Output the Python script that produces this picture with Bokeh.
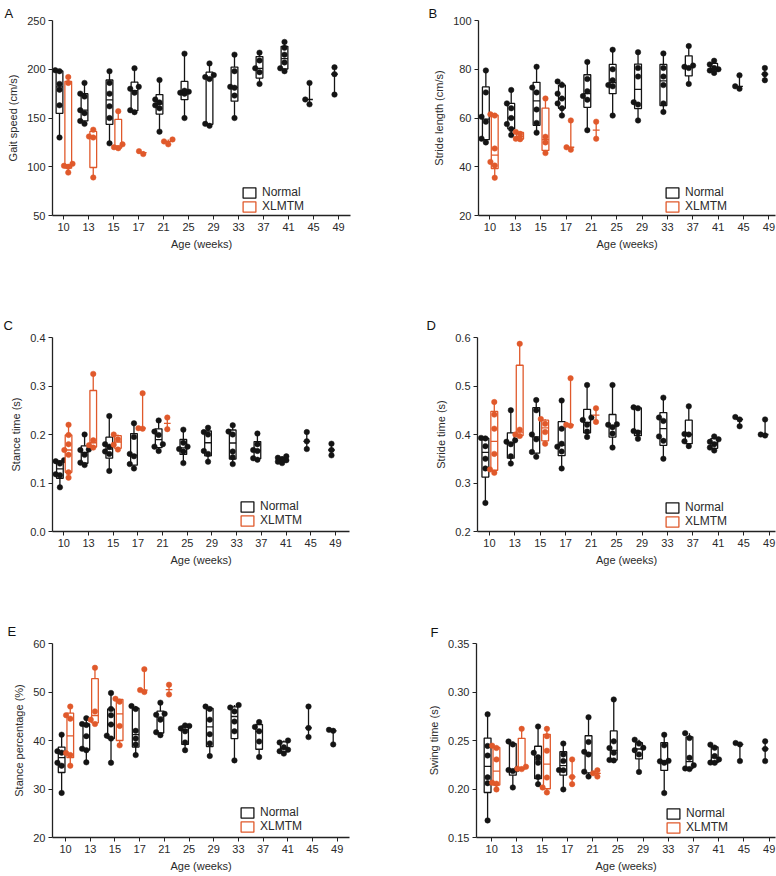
import numpy as np
from bokeh.plotting import figure
from bokeh.layouts import row, column
from bokeh.models import (Range1d, FixedTicker, NumeralTickFormatter, Legend,
                          LegendItem)
from bokeh.core.properties import value
from bokeh.embed import file_html
from bokeh.resources import INLINE

# ---------------- data ----------------
AGES = ["10", "13", "15", "17", "21", "25", "29", "33", "37", "41", "45", "49"]

A_NORMAL = [[130, 163, 179, 185, 198, 199], [144, 147, 155, 158, 172, 175, 186],
            [124, 150, 162, 175, 186, 198], [156, 158, 176, 180, 182, 201],
            [136, 160, 163, 166, 169, 189], [150, 175, 176, 177, 178, 216],
            [142, 144, 190, 192, 194, 206], [150, 173, 181, 182, 198, 215],
            [185, 197, 201, 209, 217], [198, 201, 207, 215, 222, 228],
            [164, 169, 186], [174, 195, 202]]
A_XLMTM = [[94, 100, 101, 103, 186, 192], [89, 130, 131, 138], [119, 120, 123, 157],
           [113, 116], [123, 126, 128], [], [], [], [], [], [], []]

B_NORMAL = [[50, 51.5, 58.5, 60.5, 70.5, 79.5], [53, 55.5, 57.5, 60, 64, 66, 71.5],
            [54, 58, 63.5, 70.5, 72.5, 81], [61, 64, 66, 68, 70, 73.5, 75],
            [55, 67.5, 69, 71, 76, 83], [61, 73, 73.5, 75.5, 80, 88],
            [59, 65.5, 66.5, 77, 80.5, 87], [62.5, 66, 73.5, 77, 80.5, 86.5],
            [74, 80.5, 81, 81.5, 89.5], [78.5, 79.5, 80, 80.5, 82, 83.5],
            [72, 73, 77.5], [75.5, 78, 80.5]]
B_XLMTM = [[35.5, 40.5, 42, 47.5, 61, 61.5], [51.3, 51.5, 53.5, 54.3], [45.6, 50, 52.3, 68],
           [47, 48, 59], [51.5, 58.5], [], [], [], [], [], [], []]

C_NORMAL = [[0.091, 0.116, 0.118, 0.14, 0.145, 0.147], [0.137, 0.142, 0.158, 0.168, 0.169, 0.2],
            [0.125, 0.16, 0.165, 0.175, 0.18, 0.238], [0.13, 0.139, 0.155, 0.16, 0.195, 0.223],
            [0.166, 0.175, 0.18, 0.199, 0.206, 0.229], [0.141, 0.165, 0.17, 0.175, 0.183, 0.21],
            [0.144, 0.16, 0.166, 0.2, 0.205, 0.214], [0.139, 0.153, 0.165, 0.2, 0.206, 0.219],
            [0.148, 0.151, 0.166, 0.168, 0.18, 0.202], [0.141, 0.144, 0.147, 0.149, 0.152, 0.155],
            [0.17, 0.186, 0.205], [0.157, 0.168, 0.181]]
C_XLMTM = [[0.111, 0.122, 0.158, 0.168, 0.18, 0.199, 0.22], [0.173, 0.178, 0.188, 0.325],
           [0.169, 0.179, 0.19, 0.2], [0.212, 0.213, 0.285], [0.211, 0.235],
           [], [], [], [], [], [], []]

D_NORMAL = [[0.259, 0.33, 0.35, 0.376, 0.392, 0.393], [0.34, 0.355, 0.38, 0.385, 0.388, 0.45],
            [0.354, 0.364, 0.39, 0.4, 0.45, 0.471], [0.33, 0.365, 0.375, 0.381, 0.412, 0.47],
            [0.395, 0.406, 0.42, 0.43, 0.435, 0.502], [0.373, 0.402, 0.415, 0.42, 0.421, 0.502],
            [0.391, 0.404, 0.407, 0.454, 0.456], [0.35, 0.387, 0.396, 0.428, 0.435, 0.476],
            [0.376, 0.386, 0.4, 0.401, 0.458], [0.367, 0.373, 0.38, 0.385, 0.39, 0.396],
            [0.417, 0.431, 0.436], [0.398, 0.4, 0.431]]
D_XLMTM = [[0.321, 0.328, 0.36, 0.412, 0.441, 0.467], [0.397, 0.4, 0.41, 0.587],
           [0.381, 0.405, 0.422, 0.432], [0.418, 0.42, 0.516], [0.426, 0.454],
           [], [], [], [], [], [], []]

E_NORMAL = [[29.2, 34.8, 35.4, 37.5, 37.8, 41.2], [35.5, 38, 38.3, 40.9, 43.2, 43.4, 44.6],
            [35.4, 40.4, 41, 43.3, 45.2, 46.5, 49.8], [37, 39.2, 40.4, 42, 46.5, 47.1],
            [41.1, 41.7, 44.3, 45.3, 45.5, 47.8], [38, 39.6, 41.9, 42.5, 43, 43.1],
            [36.8, 39.4, 41.3, 44.3, 46.5, 47], [35.9, 41.9, 43.9, 46, 46.8, 47.3],
            [36.6, 39.8, 41.9, 42.8, 43.8], [37.3, 37.8, 38.1, 38.6, 39.6, 40],
            [40.7, 42.6, 47], [39.2, 42, 42.2]]
E_XLMTM = [[34.8, 37, 37.4, 44.5, 45.2, 47], [43.4, 44.3, 46, 55], [39, 43, 48, 48.6],
           [50, 50.4, 54.7], [49.5, 51.5], [], [], [], [], [], [], []]

F_NORMAL = [[0.1676, 0.206, 0.212, 0.2345, 0.2444, 0.277],
            [0.2016, 0.2185, 0.2195, 0.2205, 0.246, 0.249],
            [0.205, 0.2125, 0.2271, 0.2328, 0.2373, 0.2644],
            [0.1996, 0.2193, 0.2195, 0.2288, 0.2356, 0.2468],
            [0.2128, 0.2179, 0.2356, 0.2383, 0.2485, 0.274],
            [0.2295, 0.23, 0.2373, 0.2423, 0.2491, 0.2923],
            [0.2176, 0.2356, 0.24, 0.2425, 0.2468, 0.2508],
            [0.1958, 0.227, 0.2285, 0.229, 0.245, 0.2559],
            [0.2205, 0.2212, 0.2244, 0.2322, 0.2525, 0.2576],
            [0.227, 0.2272, 0.2305, 0.2339, 0.2425, 0.2457],
            [0.2288, 0.246, 0.2474], [0.2288, 0.2413, 0.2491]]
F_XLMTM = [[0.1996, 0.2055, 0.2065, 0.2305, 0.2423, 0.2447], [0.2205, 0.221, 0.223, 0.262],
           [0.1965, 0.2015, 0.2118, 0.2395, 0.2545, 0.262], [0.205, 0.2125, 0.2305],
           [0.2128, 0.2162, 0.2193], [], [], [], [], [], [], []]

A_TICKS = [50, 100, 150, 200, 250]
B_TICKS = [20, 40, 60, 80, 100]
C_TICKS = [0.0, 0.1, 0.2, 0.3, 0.4]
D_TICKS = [0.2, 0.3, 0.4, 0.5, 0.6]
E_TICKS = [20, 30, 40, 50, 60]
F_TICKS = [0.15, 0.20, 0.25, 0.30, 0.35]

SERIES = ["Normal", "XLMTM"]

# ---------------- style ----------------
NORMAL_COLOR = "#141414"
XLMTM_COLOR = "#E0592B"
AXIS_COLOR = "#222222"
TEXT_COLOR = "#2a2a2a"
FONT = "Liberation Sans"
NORMAL_OFF = -0.16
XLMTM_OFF = 0.19
BOX_W = 0.27
LW = 1.3
DOT = 5.5
SWARM_STEPS = [0.0, -0.17, 0.17]


def swarm(vals, sx, sy, diam=5.0):
    placed = []
    for yv in sorted(vals):
        best, bestd = SWARM_STEPS[0], -1.0
        for cand in SWARM_STEPS:
            d = min((np.hypot((cand - px) * sx, (yv - py) * sy) for px, py in placed),
                    default=1e9)
            if d >= diam:
                best = cand
                break
            if d > bestd:
                best, bestd = cand, d
        placed.append((best, yv))
    return placed


def build(letter, ylabel, normal, xlmtm, yticks, yfmt, yr, xr, w, h, borders,
          letter_offset, letter_standoff, legend_xy):
    L, R, T, B = borders
    p = figure(width=w, height=h, x_range=Range1d(*xr), y_range=Range1d(*yr),
               output_backend="svg", toolbar_location=None,
               min_border_left=L, min_border_right=R, min_border_top=T,
               min_border_bottom=B)
    p.outline_line_color = None
    p.grid.visible = False
    p.background_fill_color = "white"
    p.border_fill_color = "white"

    frame_w = w - L - R
    frame_h = h - T - B
    sx = frame_w / (xr[1] - xr[0])
    sy = frame_h / (yr[1] - yr[0])

    rends = {}
    for name, data, off, color in (("Normal", normal, NORMAL_OFF, NORMAL_COLOR),
                                   ("XLMTM", xlmtm, XLMTM_OFF, XLMTM_COLOR)):
        bx, bq1, bq3 = [], [], []
        wx, wlo, whi = [], [], []
        mx0, mx1, my = [], [], []
        dx, dy = [], []
        for i, vals in enumerate(data):
            if not vals:
                continue
            c = i + off
            v = np.array(vals, dtype=float)
            q1, med, q3 = np.percentile(v, [25, 50, 75], method="weibull")
            wx.append(c); wlo.append(v.min()); whi.append(v.max())
            if len(v) >= 4:
                bx.append(c); bq1.append(q1); bq3.append(q3)
            mx0.append(c - BOX_W / 2); mx1.append(c + BOX_W / 2); my.append(med)
            for xo, yv in swarm(v, sx, sy):
                dx.append(c + xo); dy.append(yv)
        p.segment(wx, wlo, wx, whi, line_color=color, line_width=LW)
        r = p.vbar(x=bx, bottom=bq1, top=bq3, width=BOX_W, fill_color="white",
                   line_color=color, line_width=LW)
        p.segment(mx0, my, mx1, my, line_color=color, line_width=LW)
        p.scatter(dx, dy, size=DOT, fill_color=color, line_color=color, line_width=0.5)
        rends[name] = r

    # axes
    p.xaxis.ticker = FixedTicker(ticks=list(range(len(AGES))))
    p.xaxis.major_label_overrides = {i: a for i, a in enumerate(AGES)}
    p.xaxis.axis_label = "Age (weeks)"
    p.yaxis.ticker = FixedTicker(ticks=yticks)
    p.yaxis.formatter = NumeralTickFormatter(format=yfmt)
    p.yaxis.axis_label = ylabel
    for ax in (p.xaxis, p.yaxis):
        ax.axis_line_color = AXIS_COLOR
        ax.axis_line_width = LW
        ax.major_tick_line_color = AXIS_COLOR
        ax.major_tick_line_width = 1
        ax.major_tick_out = 4
        ax.major_tick_in = 0
        ax.minor_tick_line_color = None
        ax.major_label_text_font = FONT
        ax.major_label_text_font_size = "11px"
        ax.major_label_text_color = TEXT_COLOR
        ax.axis_label_text_font = FONT
        ax.axis_label_text_font_size = "11px"
        ax.axis_label_text_font_style = "normal"
        ax.axis_label_text_color = TEXT_COLOR
    p.xaxis.major_label_standoff = 3
    p.xaxis.axis_label_standoff = 4
    p.yaxis.major_label_standoff = 3
    p.yaxis.axis_label_standoff = 5

    legend = Legend(items=[LegendItem(label=value(s), renderers=[rends[s]]) for s in SERIES],
                    location=legend_xy, orientation="vertical", padding=0, margin=0,
                    spacing=0, glyph_width=16, glyph_height=13, label_height=13,
                    label_standoff=5, label_text_font=FONT, label_text_font_size="12px",
                    label_text_color=TEXT_COLOR, border_line_color=None,
                    background_fill_alpha=0)
    p.add_layout(legend)

    # panel letter as the figure title
    p.title.text = letter
    p.title.align = "left"
    p.title.offset = letter_offset
    p.title.standoff = letter_standoff
    p.title.text_font = FONT
    p.title.text_font_size = "13px"
    p.title.text_font_style = "normal"
    p.title.text_color = "#111111"
    return p


pA = build("A", "Gait speed (cm/s)", A_NORMAL, A_XLMTM, A_TICKS, "0", (50, 250),
           (-0.44, 11.48), 388, 290, (52, 38, 20, 75), -48, 0, (189, 2))
pB = build("B", "Stride length (cm/s)", B_NORMAL, B_XLMTM, B_TICKS, "0", (20, 100),
           (-0.45, 11.26), 388, 290, (90, 1, 20, 75), -50, 0, (186, 2))
pC = build("C", "Stance time (s)", C_NORMAL, C_XLMTM, C_TICKS, "0.0", (0.0, 0.4),
           (-0.46, 11.57), 388, 290, (52, 39, 47, 49), -49, 9, (187, 4))
pD = build("D", "Stride time (s)", D_NORMAL, D_XLMTM, D_TICKS, "0.0", (0.2, 0.6),
           (-0.47, 11.25), 388, 290, (89, 1, 47, 48), -51, 9, (187, 3))
pE = build("E", "Stance percentage (%)", E_NORMAL, E_XLMTM, E_TICKS, "0", (20, 60),
           (-0.53, 11.5), 388, 296, (52, 39, 63, 38), -45, 10, (187, 4))
pF = build("F", "Swing time (s)", F_NORMAL, F_XLMTM, F_TICKS, "0.00", (0.15, 0.35),
           (-0.6, 11.25), 388, 296, (88, 1, 61, 39), -46, 7, (189, 3))

layout = column(row(pA, pB), row(pC, pD), row(pE, pF))

with open("out.html", "w") as f:
    f.write(file_html(layout, INLINE, title="Gait analysis"))
